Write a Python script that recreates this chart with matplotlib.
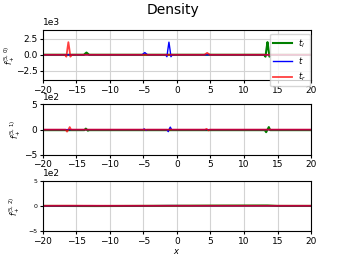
import numpy as np
import matplotlib.pyplot as plt

# top panel: f_+^(5,0)
tl_x0 = [-20, -13.9, -13.5, -13.1, 13.0, 13.2, 13.35, 13.5, 13.65, 13.8, 14.0, 20]
tl_y0 = [0, 0, 350, 0, 0, -300, 900, 2000, 900, -300, 0, 0]
t_x0 = [-20, -5.2, -4.8, -4.4, -1.7, -1.5, -1.35, -1.2, -1.05, -0.9, -0.7, 20]
t_y0 = [0, 0, 350, 0, 0, -300, 900, 2000, 900, -300, 0, 0]
tr_x0 = [-20, -16.7, -16.5, -16.35, -16.2, -16.05, -15.9, -15.7, 4.1, 4.5, 4.9, 20]
tr_y0 = [0, 0, -300, 900, 2000, 900, -300, 0, 0, 300, 0, 0]

# middle panel: f_+^(5,1)
tl_x1 = [-20, -13.8, -13.6, -13.3, -13.1, 13.1, 13.3, 13.5, 13.7, 13.9, 20]
tl_y1 = [-10, -10, 20, -20, -10, -10, -50, 0, 50, -10, -10]
t_x1 = [-20, -5.0, -4.9, -4.6, -4.5, -1.5, -1.3, -1.2, -1.0, -0.8, 20]
t_y1 = [0, 0, 15, -15, 0, 0, -40, 0, 50, 0, 0]
tr_x1 = [-20, -16.6, -16.4, -16.2, -16.0, -15.8, 4.2, 4.4, 4.7, 4.9, 20]
tr_y1 = [0, 0, -40, 0, 50, 0, 0, 15, -15, 0, 0]

# bottom panel: f_+^(5,2)
tl_x2 = [-20, -12, -6, 0, 6, 13.5, 15, 20]
tl_y2 = [-3, -5, -3, 0, 3, 5, -3, -3]
t_x2 = [-20, -13, -6, -1, 5, 20]
t_y2 = [-2, 2, 0, 3, 0, 0]
tr_x2 = [-20, -16, -10, 4.5, 20]
tr_y2 = [0, 2, 0, 1, 0]

panels = [
    (tl_x0, tl_y0, t_x0, t_y0, tr_x0, tr_y0, 4000, r'$f_+^{(5,\,0)}$'),
    (tl_x1, tl_y1, t_x1, t_y1, tr_x1, tr_y1, 500, r'$f_+^{(5,\,1)}$'),
    (tl_x2, tl_y2, t_x2, t_y2, tr_x2, tr_y2, 500, r'$f_+^{(5,\,2)}$'),
]

fig = plt.figure(figsize=(3.46, 2.59), dpi=100)
fig.suptitle("Density", fontsize=10, y=0.99)

bottoms = [0.691, 0.402, 0.108]
label_x = [-0.097, -0.075, -0.078]
for k, (xl, yl, xm, ym, xr, yr, lim, lab) in enumerate(panels):
    ax = fig.add_axes([0.124, bottoms[k], 0.775, 0.195])
    ax.plot(xl, yl, color='green', lw=1.5, label=r'$t_l$')
    ax.plot(xm, ym, color='blue', lw=1.0, label=r'$t$')
    ax.plot(xr, yr, color='red', lw=1.3, alpha=0.75, label=r'$t_r$')
    ax.set_xlim(-20, 20)
    ax.set_ylim(-lim, lim)
    ax.grid(True, color='lightgray', lw=0.8)
    ax.ticklabel_format(axis='y', style='sci', scilimits=(0, 0))
    ax.yaxis.get_offset_text().set_fontsize(6.5)
    ax.tick_params(axis='x', labelsize=6.5, length=2.5, pad=1.5)
    ysize = 4.5 if k == 2 else 6.5
    ax.tick_params(axis='y', labelsize=ysize, length=2.5, pad=1.5)
    ax.set_ylabel(lab, fontsize=5.5)
    ax.yaxis.set_label_coords(label_x[k], 0.5)
    if k == 0:
        ax.set_yticks([-2500, 0, 2500])
        ax.legend(loc='upper right', fontsize=6, handlelength=2.2,
                  borderpad=0.4, labelspacing=0.6, handletextpad=0.8,
                  bbox_to_anchor=(1.01, 1.0))
    else:
        ax.set_yticks([-500, 0, 500])
    if k == 2:
        ax.set_xlabel(r'$x$', fontsize=6, labelpad=1)

fig.savefig('out.png', dpi=100)
